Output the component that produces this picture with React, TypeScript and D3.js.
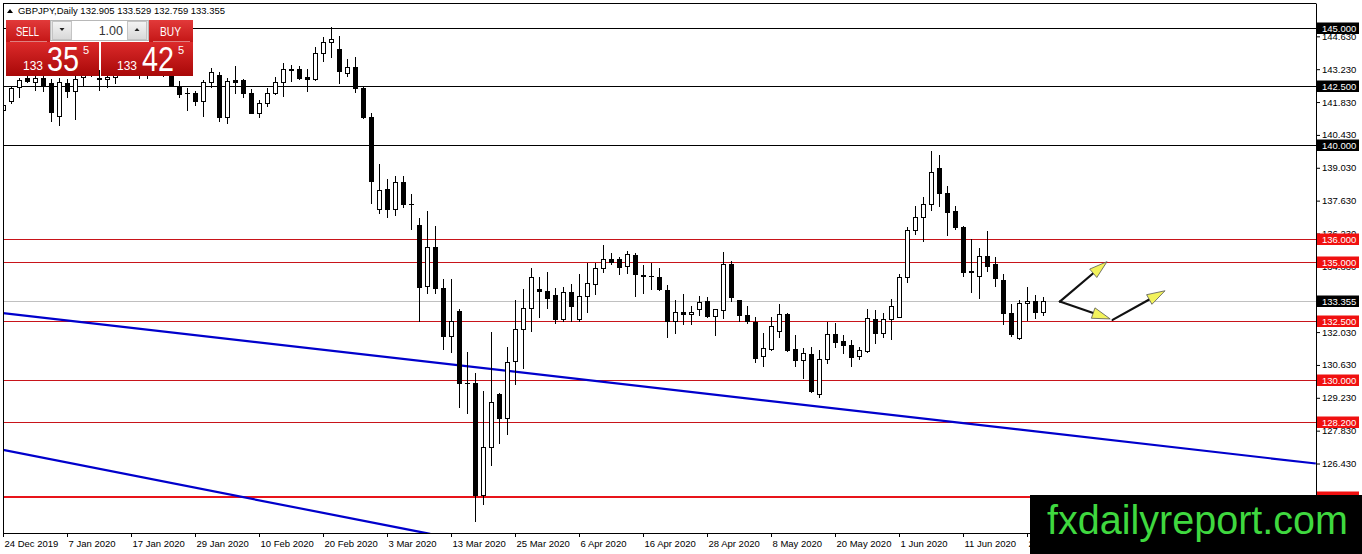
import { useEffect, useRef } from 'react';
import * as d3 from 'd3';

// GBPJPY daily candles, 24 Dec 2019 .. 25 Jun 2020
const open = [
  141.49, 141.88, 142.47, 142.86, 142.69, 142.86, 142.64, 141.24, 142.64, 142.30,
  142.90, 143.10, 142.86, 142.80, 142.90, 143.15, 143.40, 143.25, 143.05, 143.15,
  143.00, 143.10, 142.47, 142.22, 142.22, 141.88, 142.69, 142.98, 141.21, 142.77,
  142.77, 142.20, 141.38, 141.78, 142.20, 142.67, 143.21, 143.23, 142.89, 142.80,
  143.91, 144.40, 144.08, 143.08, 143.31, 142.42, 141.21, 137.26, 138.11, 137.26,
  138.41, 137.49, 136.59, 133.99, 135.64, 133.90, 131.88, 132.93, 129.87, 129.87,
  125.09, 127.12, 129.39, 128.36, 130.81, 132.15, 133.04, 133.85, 133.78, 133.61,
  132.58, 133.73, 132.58, 133.57, 134.07, 134.75, 135.13, 135.13, 134.85, 135.32,
  134.45, 134.40, 134.37, 133.82, 132.50, 132.87, 132.79, 133.01, 133.35, 132.73,
  132.97, 134.92, 133.40, 132.76, 132.47, 131.01, 131.32, 132.08, 132.80, 131.30,
  130.84, 131.08, 129.38, 130.87, 131.94, 131.65, 131.48, 131.01, 131.24, 132.58,
  132.00, 132.58, 132.69, 134.37, 136.38, 136.92, 137.48, 139.01, 137.97, 137.19,
  136.50, 134.62, 134.42, 135.27, 134.93, 134.25, 132.83, 131.79, 133.26, 133.34,
  132.905,
];
const high = [
  141.92, 142.47, 142.86, 143.00, 143.00, 143.05, 142.80, 142.85, 142.80, 143.00,
  143.30, 143.45, 143.20, 143.20, 143.30, 143.55, 143.65, 143.50, 143.35, 143.45,
  143.25, 143.20, 142.73, 142.43, 142.30, 142.77, 143.30, 143.13, 142.84, 143.37,
  142.80, 142.38, 141.92, 142.44, 142.91, 143.51, 143.41, 143.37, 143.23, 144.19,
  144.62, 145.02, 144.65, 143.65, 143.74, 142.52, 141.38, 139.19, 138.54, 138.68,
  138.68, 137.90, 136.88, 137.19, 136.55, 134.29, 134.29, 133.00, 131.20, 130.27,
  129.53, 132.02, 129.45, 131.41, 133.40, 133.85, 134.75, 134.37, 134.60, 133.90,
  133.94, 134.08, 134.49, 134.99, 134.99, 135.74, 135.39, 135.24, 135.50, 135.39,
  134.89, 134.99, 134.75, 134.04, 133.40, 133.64, 133.16, 133.57, 133.54, 133.03,
  135.46, 135.06, 133.40, 133.14, 132.69, 132.00, 132.69, 133.21, 132.83, 131.91,
  131.34, 131.41, 131.27, 132.47, 132.40, 131.91, 131.69, 131.41, 133.01, 132.97,
  132.83, 133.43, 134.49, 136.50, 137.40, 137.77, 139.75, 139.58, 138.26, 137.40,
  136.55, 136.00, 135.60, 136.35, 135.22, 134.51, 133.21, 133.40, 133.96, 133.61,
  133.529,
];
const low = [
  141.28, 141.79, 142.05, 142.68, 142.35, 142.30, 141.02, 140.85, 142.05, 141.11,
  142.50, 142.96, 142.35, 142.49, 142.64, 143.00, 143.05, 142.86, 142.86, 142.98,
  142.96, 142.64, 142.05, 141.49, 141.71, 141.24, 142.49, 141.04, 140.93, 142.20,
  142.06, 141.36, 141.21, 141.68, 142.18, 142.09, 142.73, 142.81, 142.32, 142.78,
  143.59, 143.74, 142.63, 142.94, 142.25, 141.17, 137.52, 137.12, 136.95, 137.02,
  137.35, 136.41, 132.52, 133.68, 133.71, 131.30, 131.20, 128.85, 128.57, 123.99,
  124.71, 126.37, 127.29, 127.68, 129.81, 130.51, 132.09, 132.69, 133.04, 132.43,
  132.50, 132.50, 132.50, 132.90, 133.65, 134.60, 134.93, 134.49, 134.54, 133.58,
  133.68, 133.85, 133.82, 131.83, 132.00, 132.36, 132.36, 132.76, 132.69, 131.91,
  132.62, 133.35, 132.50, 132.40, 130.77, 130.59, 131.27, 131.83, 131.24, 130.59,
  130.06, 129.49, 129.28, 130.73, 131.38, 131.15, 130.60, 130.87, 131.18, 131.58,
  131.81, 131.74, 132.66, 134.18, 136.21, 135.92, 137.23, 137.40, 136.17, 136.41,
  134.42, 133.75, 133.47, 134.65, 134.01, 132.36, 131.86, 131.72, 132.55, 132.64,
  132.759,
];
const close = [
  141.71, 142.43, 142.77, 142.73, 142.86, 142.56, 141.41, 142.68, 142.30, 142.82,
  143.10, 143.00, 142.82, 142.88, 143.15, 143.40, 143.25, 143.05, 143.15, 143.00,
  143.10, 142.50, 142.18, 142.20, 141.88, 142.69, 143.11, 141.21, 142.73, 142.70,
  142.20, 141.38, 141.78, 142.20, 142.67, 143.23, 143.24, 142.87, 142.80, 143.91,
  144.40, 144.51, 143.16, 143.31, 142.42, 141.21, 138.48, 138.08, 137.26, 138.41,
  137.49, 137.47, 133.96, 135.64, 133.90, 131.88, 132.52, 129.87, 129.85, 125.09,
  127.12, 129.04, 128.36, 130.77, 132.15, 133.04, 134.39, 133.78, 133.50, 132.58,
  133.73, 133.14, 133.57, 134.11, 134.75, 135.13, 135.03, 134.79, 135.35, 134.49,
  134.42, 134.42, 133.85, 132.50, 132.87, 132.79, 132.87, 133.30, 132.73, 133.01,
  134.92, 133.54, 132.76, 132.50, 130.94, 131.34, 132.29, 132.80, 131.27, 130.84,
  131.13, 129.53, 130.87, 131.94, 131.60, 131.48, 130.96, 131.27, 132.62, 132.00,
  132.58, 133.14, 134.37, 136.38, 136.92, 137.48, 138.84, 137.94, 137.13, 136.50,
  134.60, 134.60, 135.27, 134.86, 134.32, 132.86, 131.94, 133.26, 133.34, 132.90,
  133.355,
];

const blackLevels = [145, 142.5, 140];
const redLevels = [136, 135, 132.5, 130, 128.2];
const supportLevel = 125;
const bid = 133.355;
const priceTicks = [144.63, 143.23, 141.83, 140.43, 139.03, 137.63, 136.23, 134.83, 133.43, 132.03, 130.63, 129.23, 127.83, 126.43, 125.03];

// trend lines and arrows: [bar index, price]
const trendLines = [
  [[0, 132.84], [164.1, 126.43]],
  [[0, 127.01], [53.4, 123.43]],
];
const arrows = [
  [[132.1, 133.33], [138.0, 135.03]],
  [[132.1, 133.33], [138.4, 132.59]],
  [[138.7, 132.55], [145.25, 133.79]],
];

const holidays = ['2019-12-25', '2020-01-01'];
const keyFmt = d3.timeFormat('%Y-%m-%d');
const dates: Date[] = [];
for (let d = new Date(2019, 11, 24); dates.length < close.length; d = d3.timeDay.offset(d, 1)) {
  const wd = d.getDay();
  if (wd === 0 || wd === 6 || holidays.includes(keyFmt(d))) continue;
  dates.push(d);
}

const W = 1362;
const H = 554;
const FONT = 'Liberation Sans, Arial, sans-serif';

export default function App() {
  const svgRef = useRef<SVGSVGElement>(null);

  useEffect(() => {
    if (!svgRef.current) return;
    const svg = d3.select(svgRef.current);
    svg.selectAll('*').remove();

    const left = 3, right = 1316, top = 3, bottom = 533;
    const x = d3.scaleLinear().domain([0, 164]).range([left, left + 164 * 8]);
    const y = d3.scaleLinear().domain([123.47, 146.05]).range([bottom, top]);
    const py = (p: number) => Math.round(y(p)) + 0.5;

    const defs = svg.append('defs');
    defs.append('clipPath').attr('id', 'plot')
      .append('rect').attr('x', left).attr('y', top).attr('width', right - left).attr('height', bottom - top);
    const grad = (id: string, c1: string, c2: string) => {
      const g = defs.append('linearGradient').attr('id', id).attr('x1', 0).attr('y1', 0).attr('x2', 0).attr('y2', 1);
      g.append('stop').attr('offset', '0%').attr('stop-color', c1);
      g.append('stop').attr('offset', '100%').attr('stop-color', c2);
    };
    grad('hdr', '#e23a3a', '#c41616');
    grad('big', '#dc2a2a', '#a80808');
    grad('btn', '#f4f4f4', '#d8d8d8');

    svg.append('rect').attr('width', W).attr('height', H).attr('fill', '#fff');

    const plot = svg.append('g').attr('clip-path', 'url(#plot)');

    // bid line
    plot.append('line').attr('x1', left).attr('x2', right).attr('y1', py(bid)).attr('y2', py(bid))
      .attr('stroke', '#c0c0c0');

    plot.selectAll('.lvl-b').data(blackLevels).enter().append('line')
      .attr('x1', left).attr('x2', right).attr('y1', d => py(d)).attr('y2', d => py(d))
      .attr('stroke', '#000');
    plot.selectAll('.lvl-r').data(redLevels).enter().append('line')
      .attr('x1', left).attr('x2', right).attr('y1', d => py(d)).attr('y2', d => py(d))
      .attr('stroke', '#c8141a');
    plot.append('line').attr('x1', left).attr('x2', right)
      .attr('y1', Math.round(y(supportLevel))).attr('y2', Math.round(y(supportLevel)))
      .attr('stroke', '#e8141a').attr('stroke-width', 2);

    // trend lines
    plot.selectAll('.trend').data(trendLines).enter().append('line')
      .attr('x1', d => x(d[0][0])).attr('y1', d => y(d[0][1]))
      .attr('x2', d => x(d[1][0])).attr('y2', d => y(d[1][1]))
      .attr('stroke', '#0000cc').attr('stroke-width', 2.2);

    // candles
    const idx = d3.range(close.length);
    const cg = plot.append('g');
    idx.forEach(i => {
      const c = Math.round(x(i));
      cg.append('line').attr('x1', c + 0.5).attr('x2', c + 0.5)
        .attr('y1', Math.round(y(high[i]))).attr('y2', Math.round(y(low[i])) + 1)
        .attr('stroke', '#000');
      const yTop = Math.round(y(Math.max(open[i], close[i])));
      const yBot = Math.round(y(Math.min(open[i], close[i])));
      const bull = close[i] >= open[i];
      if (yBot - yTop < 1) {
        cg.append('line').attr('x1', c - 2).attr('x2', c + 3).attr('y1', yTop + 0.5).attr('y2', yTop + 0.5)
          .attr('stroke', '#000');
      } else {
        cg.append('rect').attr('x', c - 1.5).attr('y', yTop + 0.5).attr('width', 4).attr('height', yBot - yTop)
          .attr('fill', bull ? '#fff' : '#000').attr('stroke', '#000');
      }
    });

    // arrows
    arrows.forEach(([a, b]) => {
      const x1 = x(a[0]), y1 = y(a[1]), x2 = x(b[0]), y2 = y(b[1]);
      const ang = Math.atan2(y2 - y1, x2 - x1);
      const len = 18, hw = 5.5;
      const bx = x2 - len * Math.cos(ang), by = y2 - len * Math.sin(ang);
      plot.append('line').attr('x1', x1).attr('y1', y1).attr('x2', bx).attr('y2', by)
        .attr('stroke', '#111').attr('stroke-width', 2.2).attr('stroke-linecap', 'round');
      const pts = [
        [x2, y2],
        [bx + hw * Math.sin(ang), by - hw * Math.cos(ang)],
        [bx - hw * Math.sin(ang), by + hw * Math.cos(ang)],
      ];
      plot.append('path').attr('d', 'M' + pts.map(p => p.join(',')).join('L') + 'Z')
        .attr('fill', '#f2f25c').attr('stroke', '#555').attr('stroke-width', 0.8);
    });

    // frame
    svg.append('line').attr('x1', left).attr('x2', right).attr('y1', top + 0.5).attr('y2', top + 0.5).attr('stroke', '#000');
    svg.append('line').attr('x1', left + 0.5).attr('x2', left + 0.5).attr('y1', top).attr('y2', bottom).attr('stroke', '#000');

    // axes
    const fmtDate = d3.timeFormat('%-d %b %Y');
    const xAxis = svg.append('g').attr('transform', `translate(0,${bottom})`)
      .call(d3.axisBottom(x).tickValues(d3.range(0, close.length, 8)).tickSize(4).tickSizeOuter(0)
        .tickFormat(d => fmtDate(dates[+d])));
    xAxis.select('.domain').attr('d', `M${left},0.5H${right}`);
    xAxis.selectAll('text').attr('text-anchor', 'start').attr('x', 1)
      .attr('font-family', FONT).attr('font-size', 9.5).attr('fill', '#000');

    const yAxis = svg.append('g').attr('transform', `translate(${right},0)`)
      .call(d3.axisRight(y).tickValues(priceTicks).tickSize(4).tickSizeOuter(0).tickFormat(d => d3.format('.3f')(+d)));
    yAxis.selectAll('text').attr('font-family', FONT).attr('font-size', 9.5).attr('fill', '#000').attr('x', 6);

    // level labels
    const labels = [
      ...blackLevels.map(v => ({ v, c: '#000' })),
      { v: bid, c: '#000' },
      ...redLevels.map(v => ({ v, c: '#f01010' })),
      { v: supportLevel, c: '#f01010' },
    ];
    const lg = svg.selectAll('.lab').data(labels).enter().append('g')
      .attr('transform', d => `translate(${right + 1},${Math.round(y(d.v))})`);
    lg.append('rect').attr('x', 0).attr('y', -5.5).attr('width', 42).attr('height', 11.5).attr('fill', d => d.c);
    lg.append('text').attr('x', 5).attr('y', 4).attr('font-family', FONT).attr('font-size', 9.5)
      .attr('fill', '#fff').text(d => d3.format('.3f')(d.v));

    // header
    svg.append('path').attr('d', 'M7,13L10,9L13,13Z').attr('fill', '#000');
    svg.append('text').attr('x', 18).attr('y', 14).attr('font-family', FONT).attr('font-size', 9.5)
      .attr('textLength', 207).attr('lengthAdjust', 'spacingAndGlyphs')
      .text(`GBPJPY,Daily  ${open[130].toFixed(3)} ${high[130].toFixed(3)} ${low[130].toFixed(3)} ${close[130].toFixed(3)}`);

    // one-click trading panel
    const pn = svg.append('g');
    pn.append('rect').attr('x', 6).attr('y', 20).attr('width', 44).attr('height', 22).attr('fill', 'url(#hdr)');
    pn.append('rect').attr('x', 149).attr('y', 20).attr('width', 44).attr('height', 22).attr('fill', 'url(#hdr)');
    pn.append('rect').attr('x', 6).attr('y', 42).attr('width', 93).attr('height', 34).attr('fill', 'url(#big)');
    pn.append('rect').attr('x', 101).attr('y', 42).attr('width', 92).attr('height', 34).attr('fill', 'url(#big)');
    pn.append('line').attr('x1', 10).attr('x2', 47).attr('y1', 41.5).attr('y2', 41.5).attr('stroke', 'rgba(255,255,255,0.45)');
    pn.append('line').attr('x1', 153).attr('x2', 190).attr('y1', 41.5).attr('y2', 41.5).attr('stroke', 'rgba(255,255,255,0.45)');
    pn.append('rect').attr('x', 50.5).attr('y', 20.5).attr('width', 98).attr('height', 20).attr('fill', '#e4e4e4').attr('stroke', '#b8b8b8');
    pn.append('rect').attr('x', 52.5).attr('y', 21.5).attr('width', 19).attr('height', 18).attr('fill', 'url(#btn)').attr('stroke', '#c4c4c4');
    pn.append('rect').attr('x', 127.5).attr('y', 21.5).attr('width', 19).attr('height', 18).attr('fill', 'url(#btn)').attr('stroke', '#c4c4c4');
    pn.append('rect').attr('x', 72).attr('y', 21).attr('width', 55).attr('height', 19).attr('fill', '#fff');
    pn.append('path').attr('d', 'M59.5,28L64.5,28L62,31Z').attr('fill', '#222');
    pn.append('path').attr('d', 'M134.5,31L139.5,31L137,28Z').attr('fill', '#222');
    pn.append('text').attr('x', 123).attr('y', 35).attr('text-anchor', 'end').attr('font-family', FONT)
      .attr('font-size', 12.5).attr('fill', '#333').text('1.00');
    const wt = (t: string, xx: number, yy: number, fs: number, tl?: number) => {
      const el = pn.append('text').attr('x', xx).attr('y', yy).attr('font-family', FONT)
        .attr('font-size', fs).attr('fill', '#fff').text(t);
      if (tl) el.attr('textLength', tl).attr('lengthAdjust', 'spacingAndGlyphs');
    };
    wt('SELL', 16, 36, 13.5, 23);
    wt('BUY', 160, 36, 13.5, 21);
    wt('133', 23, 70, 12.5, 20);
    wt('35', 47, 70.5, 35, 32);
    wt('5', 83, 54, 11);
    wt('133', 117, 70, 12.5, 20);
    wt('42', 142, 70.5, 35, 32);
    wt('5', 178, 54, 11);

    // watermark
    svg.append('rect').attr('x', 1030).attr('y', 495).attr('width', W - 1030).attr('height', H - 495).attr('fill', '#000');
    svg.append('text').attr('x', 1047).attr('y', 534).attr('font-family', FONT).attr('font-size', 40)
      .attr('fill', '#3fd83f').attr('textLength', 301).attr('lengthAdjust', 'spacingAndGlyphs')
      .text('fxdailyreport.com');
  }, []);

  return (
    <div style={{ position: 'absolute', left: 0, top: 0 }}>
      <svg ref={svgRef} width={W} height={H} style={{ display: 'block' }} />
    </div>
  );
}
